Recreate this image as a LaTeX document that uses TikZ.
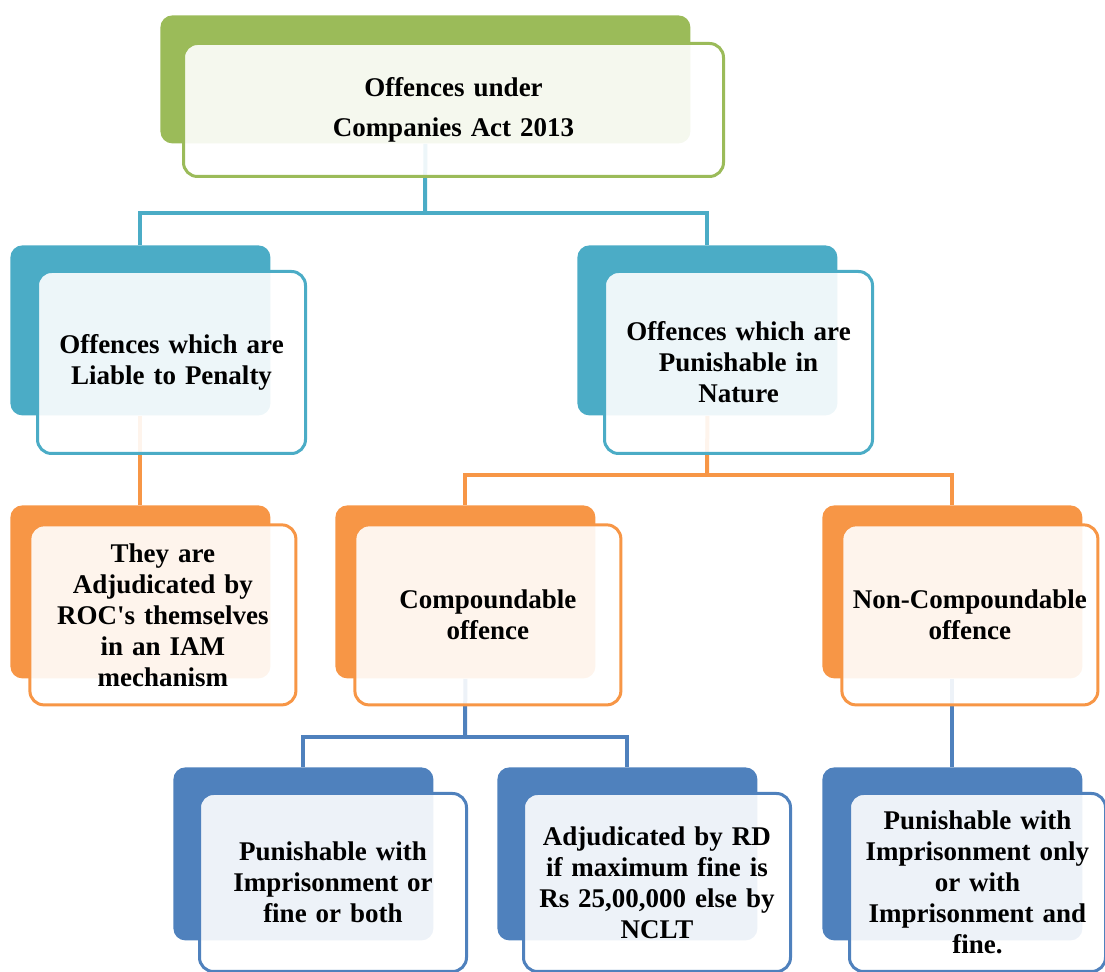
\documentclass[tikz,border=0pt]{standalone}
\usepackage{fontspec}
\setmainfont{Liberation Serif}
\usetikzlibrary{positioning}
\pgfdeclarelayer{background}
\pgfsetlayers{background,main}
\definecolor{offgreen}{HTML}{9BBB59}
\definecolor{offteal}{HTML}{4BACC6}
\definecolor{offorange}{HTML}{F79646}
\definecolor{offblue}{HTML}{4F81BD}

\begin{document}
\begin{tikzpicture}[x=0.5pt,y=-0.5pt,
  back/.style={rounded corners=6pt,anchor=north west,inner sep=0pt,
    minimum width=130pt,minimum height=86.5pt},
  front/.style={draw=#1,fill=white,fill opacity=0.9,text opacity=1,line width=1.5pt,
    rounded corners=7pt,text width=126pt,align=center,inner sep=0pt,
    minimum width=133pt,minimum height=90pt,font=\bfseries\fontsize{13.5}{15.5}\selectfont},
  link/.style={draw=#1,line width=2pt},
  node distance=13pt]
\useasboundingbox (0,0) rectangle (1105,972);

\node[back,fill=offgreen,minimum width=265pt,minimum height=64pt](topb) at (160,15){};
\node[front=offgreen,minimum width=270pt,minimum height=66.5pt,text width=260pt,
  font=\bfseries\fontsize{13.5}{20}\selectfont,
  below right=13.5pt and 11pt of topb.north west](topf){Offences under\\Companies Act 2013};

\node[back,fill=offteal,minimum height=85pt](penb) at (10,245){};
\node[front=offteal,minimum width=134pt,minimum height=91pt,
  below right=12.5pt and 13pt of penb.north west](penf){Offences which are\\Liable to Penalty};
\node[back,fill=offteal,minimum height=85pt](punb) at (577,245){};
\node[front=offteal,minimum width=134pt,minimum height=91pt,
  below right=12.5pt and 13pt of punb.north west](punf){Offences which are\\Punishable in\\Nature};

\node[back,fill=offorange](adjb) at (10,505){};
\node[front=offorange,below right=of adjb.north west](adjf){They are\\Adjudicated by\\ROC\textquotesingle s themselves\\in an IAM\\mechanism};
\node[back,fill=offorange](compb) at (335,505){};
\node[front=offorange,below right=of compb.north west](compf){Compoundable\\offence};
\node[back,fill=offorange](ncompb) at (822,505){};
\node[front=offorange,minimum width=128pt,below right=of ncompb.north west](ncompf){Non-Compoundable\\offence};

\node[back,fill=offblue](imprb) at (173,767){};
\node[front=offblue,minimum width=133.5pt,minimum height=89pt,
  below right=12.5pt and 12.5pt of imprb.north west](imprf){Punishable with\\Imprisonment or\\fine or both};
\node[back,fill=offblue](rdb) at (497,767){};
\node[front=offblue,minimum width=133.5pt,minimum height=89pt,
  below right=12.5pt and 12.5pt of rdb.north west](rdf){Adjudicated by RD\\if maximum fine is\\Rs 25,00,000 else by\\NCLT};
\node[back,fill=offblue](onlyb) at (822,767){};
\node[front=offblue,minimum width=128pt,minimum height=89pt,
  below right=12.5pt and 13pt of onlyb.north west](onlyf){Punishable with\\Imprisonment only\\or with\\Imprisonment and\\fine.};

\begin{pgfonlayer}{background}
\coordinate (j1) at (425,213);
\coordinate (j2) at (707,475);
\coordinate (j3) at (465,737);
\draw[link=offteal](topb.south)--(j1);
\draw[link=offteal](penb.north)|-(j1)-|(punb.north);
\draw[link=offorange](penb.south)--(adjb.north);
\draw[link=offorange](punb.south)--(j2);
\draw[link=offorange](compb.north)|-(j2)-|(ncompb.north);
\draw[link=offblue](compb.south)--(j3);
\draw[link=offblue](imprb.north)|-(j3)-|(rdb.north);
\draw[link=offblue](ncompb.south)--(onlyb.north);
\end{pgfonlayer}
\end{tikzpicture}
\end{document}
